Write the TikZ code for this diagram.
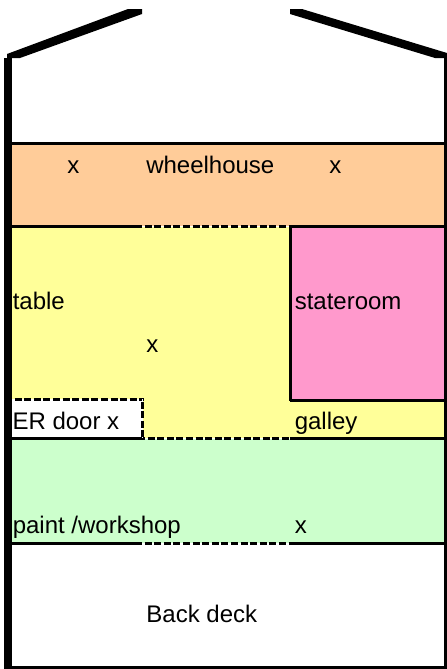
\documentclass[tikz,border=0pt]{standalone}
\usepackage{fontspec}
\setmainfont{Liberation Sans}
\usetikzlibrary{positioning}

\begin{document}
\begin{tikzpicture}[x=0.75pt, y=-0.75pt, line cap=butt,
    %Style
    wall line/.style={line width=2.25pt},
    door line/.style={line width=2.25pt, dash pattern=on 5.2pt off 2pt, dash phase=5.2pt,
      preaction={draw, white, solid}},
    room text/.style={anchor=base west, inner sep=0pt, font=\fontsize{18}{20}\selectfont}]
    %Colors
    \definecolor{wheelhousecolor}{RGB}{255,204,153}
    \definecolor{saloncolor}{RGB}{255,255,153}
    \definecolor{stateroomcolor}{RGB}{255,153,204}
    \definecolor{workshopcolor}{RGB}{204,255,204}
    \useasboundingbox (0,0) rectangle (447,669);

    %The rooms
    \fill[wheelhousecolor] (12,143) rectangle (445,226.5);
    \fill[saloncolor] (12,226.5) rectangle (445,438);
    \fill[stateroomcolor] (290,226.5) rectangle (445,400);
    \fill[white] (12,399) rectangle (143,438);
    \fill[workshopcolor] (12,438) rectangle (445,544);

    %The outline
    \fill (4,58) rectangle (12,669);
    \draw[wall line] (445.5,58) -- (445.5,669);
    \draw[wall line] (4,667.5) -- (447,667.5);
    \fill (7,54) -- (128,9) -- (142,9) -- (142,14) -- (20,58) -- (7,58) -- cycle;
    \fill (290,9) -- (302,9) -- (447,53) -- (447,58) -- (435,58) -- (290,14) -- cycle;

    \draw[wall line] (12,143) -- (445,143);
    \foreach \y in {226.5, 543.5}
      \draw[wall line] (12,\y) -- (142,\y) (290,\y) -- (445,\y);
    \draw[wall line] (12,438.5) -- (145,438.5) (290,438.5) -- (445,438.5);
    \draw[wall line] (290.5,226.5) -- (290.5,401) (290,400) -- (445,400);

    %The doors
    \foreach \y in {226.5, 543.5}
      \draw[door line] (142,\y) -- (290,\y);
    \draw[door line] (145,438.5) -- (290,438.5);
    \draw[door line] (12,399.5) -- (144,399.5);
    \draw[door line] (142.5,399) -- (142.5,438);

    %The labels
    \node[room text] (wheelhouse) at (146,173) {wheelhouse};
    \node[room text] (wheelhouse x left) at (67,173) {x};
    \node[room text] (wheelhouse x right) at (329,173) {x};
    \node[room text] (table) at (12.5,309) {table};
    \node[room text] (table x) at (146,352) {x};
    \node[room text] (stateroom) at (294.5,309) {stateroom};
    \node[room text] (er door) at (12.3,429) {ER door x};
    \node[room text] (galley) at (294.5,429) {galley};
    \node[room text] (paint) at (12.5,533) {paint /workshop};
    \node[room text] (paint x) at (294.5,533) {x};
    \node[room text] (back deck) at (146.2,622) {Back deck};
\end{tikzpicture}
\end{document}
